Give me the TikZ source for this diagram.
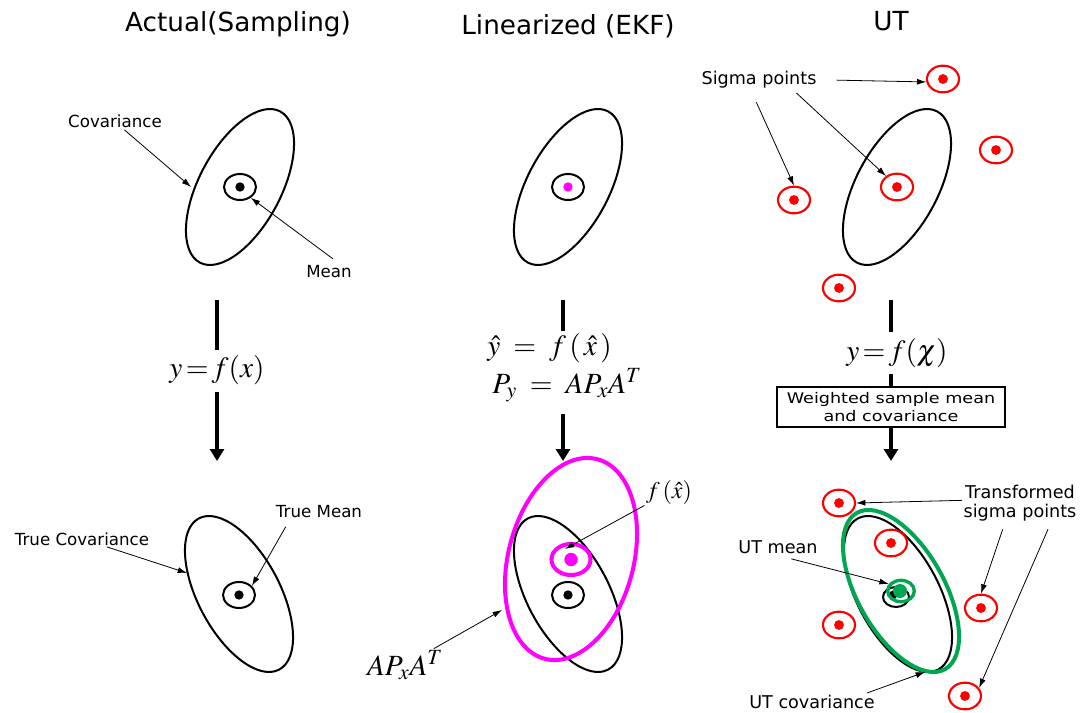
\documentclass[tikz,border=0pt]{standalone}
\usepackage{mathptmx}
\usepackage[no-math]{fontspec}
\newfontfamily\lblfont{DejaVu Sans}
\newfontfamily\boxfont[FakeStretch=1.2]{DejaVu Sans}
\usetikzlibrary{arrows.meta,positioning,shapes.geometric,calc}
\definecolor{ekfmag}{RGB}{255,0,255}
\definecolor{utgreen}{RGB}{0,166,81}

\begin{document}
\begin{tikzpicture}[
    x=0.75pt, y=0.75pt,
    title/.style={anchor=base, font=\lblfont\fontsize{19.7}{23}\selectfont},
    lbl/.style={anchor=base, inner sep=1pt, font=\lblfont\fontsize{12.5}{15}\selectfont},
    lblut/.style={lbl, font=\lblfont\fontsize{13.2}{14.3}\selectfont},
    eqn/.style={anchor=base, inner sep=4.5pt, font=\fontsize{22}{26}\selectfont},
    covell/.style={draw, ellipse, line width=1.5pt, inner sep=0pt, minimum width=128.4pt, minimum height=61.4pt},
    meanmk/.style={draw, ellipse, line width=1.5pt, inner sep=0pt, minimum width=24pt, minimum height=19.5pt,
      path picture={\fill[#1] (path picture bounding box.center) circle (3.5pt);}},
    meanmk/.default=black,
    sigpt/.style={draw=red, ellipse, line width=1.6pt, inner sep=0pt, minimum width=24pt, minimum height=20pt,
      path picture={\fill[red] (path picture bounding box.center) circle (3.7pt);}},
    arrow/.style={line width=0.6pt, -{Latex[length=7pt,width=4.5pt]}},
    flow/.style={line width=3pt},
    flowarrow/.style={flow, -{Triangle[length=9pt,width=10.5pt]}}
  ]
  \useasboundingbox (0,0) rectangle (1083,-713);

  % Titoli
  \node (ttlact) [title] at (238,-32) {Actual(Sampling)};
  \node (ttlekf) [title] at (568,-35) {Linearized (EKF)};
  \node (ttlut) [title] at (891,-31) {UT};

  % Colonna 1: campionamento
  \node (cov1) [covell, rotate=62] at (240,-187) {};
  \node (mean1) [meanmk] at (240,-187) {};
  \node (covlbl) [lbl] at (115,-128) {Covariance};
  \node (meanlbl) [lbl] at (329,-278) {Mean};
  \coordinate (covtip) at (191,-187);
  \draw [arrow] (covlbl) -- (covtip);
  \draw [arrow] ([xshift=3pt,yshift=4pt]meanlbl.north) -- (mean1.-45);

  \coordinate (top1) at (217,-300);
  \node (map1) [eqn] at (217,-378) {$y\!=\!f(x)$};
  \coordinate (tip1) at (217,-461);
  \draw [flow] (top1) -- (map1);
  \draw [flowarrow] (map1) -- (tip1);

  \node (tcov1) [covell, rotate=-62] at (239,-594) {};
  \node (tmean1) [meanmk] at (239,-595) {};
  \node (tcovlbl) [lbl] at (82,-545) {True Covariance};
  \node (tmeanlbl) [lbl] at (319,-517) {True Mean};
  \coordinate (tcovtip) at (187,-573);
  \draw [arrow] (tcovlbl) -- (tcovtip);
  \draw [arrow] ([xshift=-25pt,yshift=-6pt]tmeanlbl.south) -- (tmean1.35);

  % Colonna 2: linearizzazione
  \node (cov2) [covell, rotate=62] at (568,-187) {};
  \node (mean2) [meanmk=ekfmag] at (568,-187) {};

  \coordinate (top2) at (563,-300);
  \node (lin2) [eqn, inner sep=1pt] at (549.5,-355) {$\hat{y} \;=\; f\,(\,\hat{x}\,)$};
  \node (cov2eq) [eqn, inner sep=1pt] at (567,-393) {$P_y \;=\; AP_xA^T$};
  \coordinate (tip2) at (563,-461);
  \draw [flow] (top2) -- (top2 |- lin2.north);
  \draw [flowarrow] ([yshift=-8pt]cov2eq.south -| tip2) -- (tip2);

  \node (tcov2) [covell, rotate=-62] at (568,-594) {};
  \node (ekfcov) [draw=ekfmag, ellipse, line width=3pt, inner sep=0pt, minimum width=154.8pt, minimum height=93.9pt, rotate=75.2] at (571,-559) {};
  \node (tmean2) [meanmk] at (568,-595) {};
  \node (ekfmean) [draw=ekfmag, ellipse, line width=3pt, inner sep=0pt, minimum width=29.3pt, minimum height=23.3pt,
    path picture={\fill[ekfmag] (path picture bounding box.center) circle (5pt);}] at (571,-559.5) {};
  \node (fxlbl) [eqn, inner sep=1pt, font=\fontsize{18}{21}\selectfont] at (669,-498) {$f\,(\hat{x})$};
  \node (apalbl) [eqn, inner sep=1pt] at (405,-675) {$AP_xA^T$};
  \coordinate (fxtip) at (565,-549);
  \coordinate (apatip) at (502,-610);
  \draw [arrow] (fxlbl) -- (fxtip);
  \draw [arrow] (apalbl) -- (apatip);

  % Colonna 3: UT
  \node (cov3) [covell, rotate=62] at (897,-187) {};
  \node (sig0) [sigpt] at (897,-187) {};
  \node (sig1) [sigpt] at (943,-79) {};
  \node (sig2) [sigpt] at (794,-200) {};
  \node (sig3) [sigpt] at (996,-150) {};
  \node (sig4) [sigpt] at (839,-288) {};
  \node (siglbl) [lblut] at (759,-85) {Sigma points};
  \draw [arrow] ([xshift=14pt]siglbl.east) -- (sig1.190);
  \draw [arrow] ([xshift=-2pt,yshift=-9pt]siglbl.south) -- (sig2.north);
  \draw [arrow] ([xshift=28pt,yshift=-2pt]siglbl.south) -- (sig0.135);

  \coordinate (top3) at (891,-300);
  \node (map3) [eqn] at (897,-360) {$y\!=\!f(\chi)$};
  \node (wbox) [draw, line width=0.8pt, minimum width=171pt, minimum height=30pt, align=center, inner sep=1pt,
    font=\boxfont\fontsize{11}{13.5}\selectfont] at (891,-407) {Weighted sample mean\\and covariance};
  \coordinate (tip3) at (891,-461);
  \draw [flow] (top3) -- (top3 |- map3.north);
  \draw [flow] (top3 |- map3.south) -- (wbox);
  \draw [flowarrow] (wbox) -- (tip3);

  \node (ucov) [covell, rotate=-62] at (898,-594) {};
  \node (ucovg) [draw=utgreen, ellipse, line width=3pt, inner sep=0pt, minimum width=134.6pt, minimum height=65.1pt, rotate=-60.6] at (901,-591) {};
  \node (tsig1) [sigpt] at (839,-503) {};
  \node (tsig2) [sigpt] at (891,-543) {};
  \node (tsig3) [sigpt] at (981,-608) {};
  \node (tsig4) [sigpt] at (839,-625) {};
  \node (tsig5) [sigpt] at (965,-696) {};

  \node (utmb) [draw, ellipse, line width=1.5pt, inner sep=0pt, minimum width=19.5pt, minimum height=15pt] at (896,-597) {};
  \node (utdotb) [circle, fill, inner sep=0pt, minimum size=6.5pt] at (893,-595) {};
  \node (utmg) [draw=utgreen, ellipse, line width=2.5pt, inner sep=0pt, minimum width=20pt, minimum height=16pt] at (901,-591) {};
  \node (utdotg) [circle, fill=utgreen, inner sep=0pt, minimum size=10.5pt] at (900,-591) {};

  \node (trlbl) [lblut, align=center, anchor=center] at (1020,-503) {Transformed\\sigma points};
  \node (utmlbl) [lblut] at (778,-553) {UT mean};
  \node (utclbl) [lblut] at (812,-708) {UT covariance};
  \coordinate (utctip) at (925,-672);
  \draw [arrow] ([yshift=2pt]trlbl.west) -- (tsig1.east);
  \draw [arrow] ([xshift=-13pt,yshift=-5pt]trlbl.south) -- (tsig3.north);
  \draw [arrow] ([xshift=21pt,yshift=-5pt]trlbl.south) -- (tsig5.30);
  \draw [arrow] ([xshift=10pt,yshift=-3pt]utmlbl.south) -- (utmg.150);
  \draw [arrow] ([xshift=-7pt]utclbl.north east) -- (utctip);

\end{tikzpicture}
\end{document}
